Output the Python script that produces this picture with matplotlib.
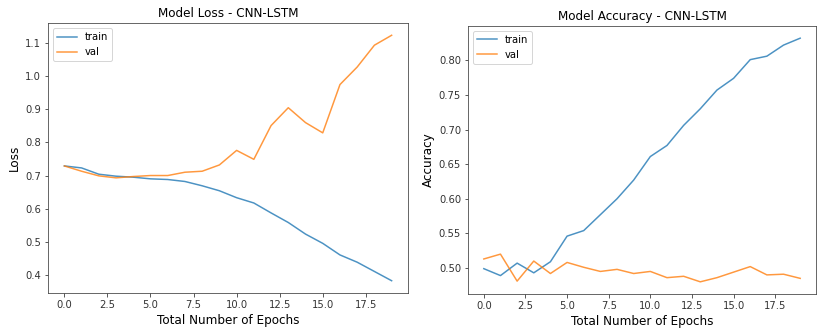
import matplotlib
matplotlib.use("Agg")
import matplotlib.pyplot as plt

epochs = list(range(20))

train_loss = [0.729, 0.723, 0.704, 0.698, 0.695, 0.690, 0.688, 0.682, 0.669, 0.654,
              0.633, 0.617, 0.587, 0.558, 0.523, 0.495, 0.460, 0.438, 0.410, 0.382]
val_loss = [0.729, 0.713, 0.699, 0.693, 0.697, 0.700, 0.700, 0.710, 0.713, 0.732,
            0.776, 0.749, 0.851, 0.905, 0.860, 0.829, 0.975, 1.028, 1.094, 1.124]

train_acc = [0.499, 0.489, 0.507, 0.493, 0.509, 0.546, 0.554, 0.577, 0.600, 0.627,
             0.661, 0.677, 0.706, 0.730, 0.757, 0.774, 0.801, 0.806, 0.822, 0.832]
val_acc = [0.513, 0.520, 0.481, 0.510, 0.492, 0.508, 0.501, 0.495, 0.498, 0.492,
           0.495, 0.486, 0.488, 0.480, 0.486, 0.494, 0.502, 0.490, 0.491, 0.485]

plt.rcParams['font.family'] = ['DejaVu Sans']

DPI = 72
W, H = 817, 335
fig = plt.figure(figsize=(W / DPI, H / DPI), dpi=DPI)

ax1 = fig.add_axes([48 / W, (H - 293) / H, 360 / W, 270 / H])
ax2 = fig.add_axes([468 / W, (H - 294) / H, 348 / W, 268 / H])

ax1.plot(epochs, train_loss, color='#1f77b4', alpha=0.8, label='train')
ax1.plot(epochs, val_loss, color='#ff7f0e', alpha=0.8, label='val')
ax1.set_title('Model Loss - CNN-LSTM', fontsize=12)
ax1.set_xlabel('Total Number of Epochs', fontsize=12)
ax1.set_ylabel('Loss', fontsize=12)
ax1.legend(loc='upper left')

ax2.plot(epochs, train_acc, color='#1f77b4', alpha=0.8, label='train')
ax2.plot(epochs, val_acc, color='#ff7f0e', alpha=0.8, label='val')
ax2.set_title('Model Accuracy - CNN-LSTM', fontsize=12)
ax2.set_xlabel('Total Number of Epochs', fontsize=12)
ax2.set_ylabel('Accuracy', fontsize=12)
ax2.legend(loc='upper left')

for ax in (ax1, ax2):
    for s in ax.spines.values():
        s.set_color('#444444')
    ax.tick_params(colors='#333333')

fig.savefig('out.png', dpi=DPI)
